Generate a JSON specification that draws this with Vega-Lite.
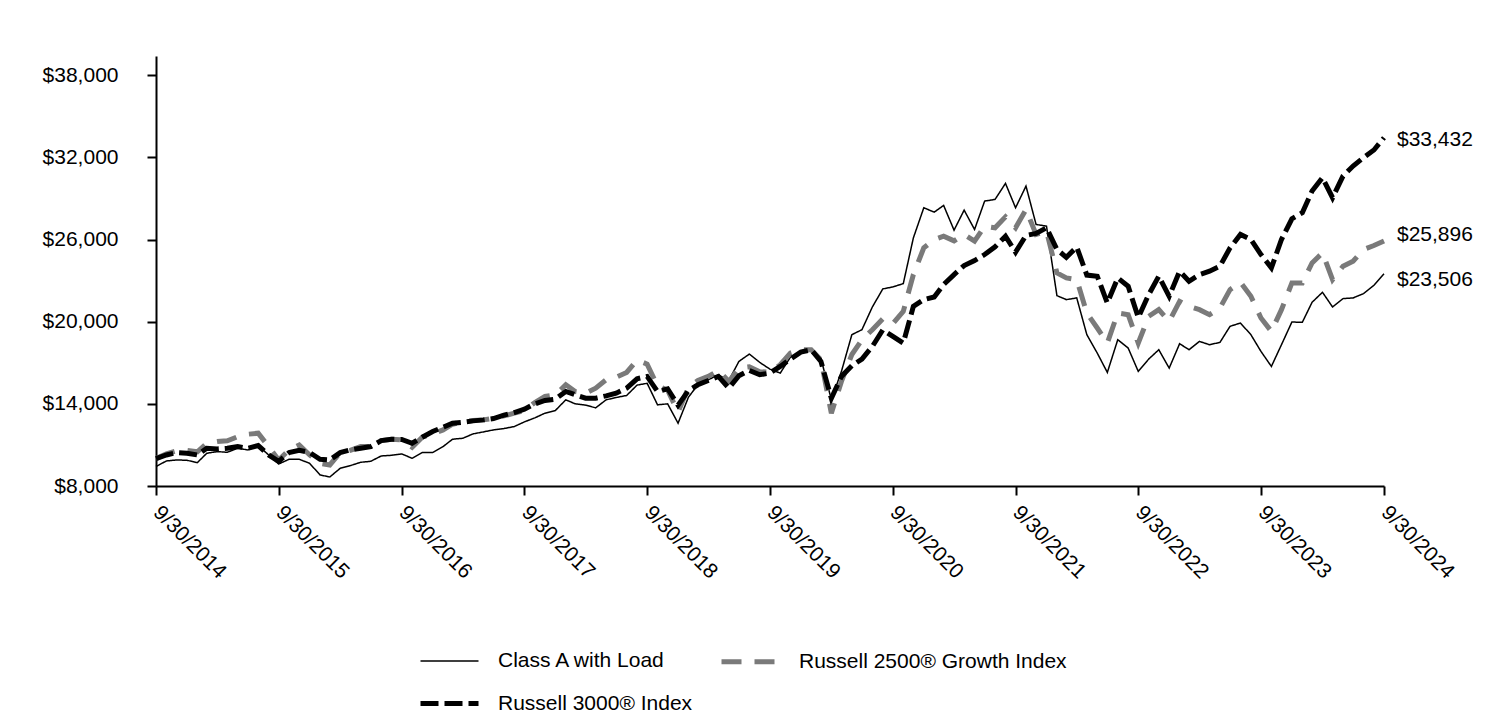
{
  "$schema": "https://vega.github.io/schema/vega-lite/v6.json",
  "width": 1228,
  "height": 430,
  "autosize": {"type": "none"},
  "padding": {"left": 156, "top": 56, "right": 128, "bottom": 232},
  "background": "white",
  "config": {
    "font": "Liberation Sans",
    "view": {"stroke": null},
    "axis": {"grid": false, "domainColor": "#000000", "domainWidth": 2, "tickColor": "#000000", "tickWidth": 2, "tickSize": 9, "labelColor": "#000000", "labelFontSize": 21, "labelFont": "Liberation Sans", "title": null}
  },
  "data": {
    "format": {"parse": {"d": "date:'%Y-%m-%d'"}},
    "values": [
      {"d":"2014-09-30","A":9425,"G":10000,"R":10000},
      {"d":"2014-10-31","A":9829,"G":10350,"R":10268},
      {"d":"2014-11-30","A":9902,"G":10561,"R":10439},
      {"d":"2014-12-31","A":9878,"G":10600,"R":10390},
      {"d":"2015-01-31","A":9707,"G":10500,"R":10268},
      {"d":"2015-02-28","A":10390,"G":11122,"R":10756},
      {"d":"2015-03-31","A":10512,"G":11244,"R":10707},
      {"d":"2015-04-30","A":10463,"G":11300,"R":10756},
      {"d":"2015-05-31","A":10756,"G":11600,"R":10878},
      {"d":"2015-06-30","A":10634,"G":11780,"R":10756},
      {"d":"2015-07-31","A":10951,"G":11854,"R":10951},
      {"d":"2015-08-31","A":10268,"G":10878,"R":10268},
      {"d":"2015-09-30","A":9610,"G":9900,"R":9800},
      {"d":"2015-10-31","A":9951,"G":10634,"R":10450},
      {"d":"2015-11-30","A":9951,"G":11000,"R":10600},
      {"d":"2015-12-31","A":9659,"G":10268,"R":10450},
      {"d":"2016-01-31","A":8805,"G":9659,"R":9951},
      {"d":"2016-02-29","A":8659,"G":9536,"R":9902},
      {"d":"2016-03-31","A":9293,"G":10439,"R":10439},
      {"d":"2016-04-30","A":9488,"G":10600,"R":10634},
      {"d":"2016-05-31","A":9732,"G":10878,"R":10756},
      {"d":"2016-06-30","A":9805,"G":10878,"R":10878},
      {"d":"2016-07-31","A":10195,"G":11317,"R":11317},
      {"d":"2016-08-31","A":10244,"G":11415,"R":11415},
      {"d":"2016-09-30","A":10341,"G":11366,"R":11400},
      {"d":"2016-10-31","A":10024,"G":10830,"R":11122},
      {"d":"2016-11-30","A":10439,"G":11561,"R":11561},
      {"d":"2016-12-31","A":10439,"G":11805,"R":11976},
      {"d":"2017-01-31","A":10878,"G":12098,"R":12293},
      {"d":"2017-02-28","A":11415,"G":12512,"R":12586},
      {"d":"2017-03-31","A":11488,"G":12683,"R":12660},
      {"d":"2017-04-30","A":11805,"G":12780,"R":12756},
      {"d":"2017-05-31","A":11950,"G":12829,"R":12829},
      {"d":"2017-06-30","A":12098,"G":12951,"R":12927},
      {"d":"2017-07-31","A":12195,"G":13122,"R":13170},
      {"d":"2017-08-31","A":12342,"G":13317,"R":13366},
      {"d":"2017-09-30","A":12683,"G":13512,"R":13610},
      {"d":"2017-10-31","A":12976,"G":14098,"R":14000},
      {"d":"2017-11-30","A":13317,"G":14537,"R":14244},
      {"d":"2017-12-31","A":13512,"G":14659,"R":14342},
      {"d":"2018-01-31","A":14293,"G":15390,"R":14903},
      {"d":"2018-02-28","A":14000,"G":14903,"R":14659},
      {"d":"2018-03-31","A":13903,"G":14781,"R":14415},
      {"d":"2018-04-30","A":13708,"G":15146,"R":14415},
      {"d":"2018-05-31","A":14293,"G":15756,"R":14585},
      {"d":"2018-06-30","A":14463,"G":15951,"R":14781},
      {"d":"2018-07-31","A":14610,"G":16293,"R":15146},
      {"d":"2018-08-31","A":15366,"G":17200,"R":15830},
      {"d":"2018-09-30","A":15500,"G":16900,"R":16000},
      {"d":"2018-10-31","A":13927,"G":15300,"R":14900},
      {"d":"2018-11-30","A":14000,"G":15000,"R":15100},
      {"d":"2018-12-31","A":12586,"G":13400,"R":13900},
      {"d":"2019-01-31","A":14490,"G":15200,"R":14975},
      {"d":"2019-02-28","A":15390,"G":15700,"R":15390},
      {"d":"2019-03-31","A":15756,"G":16000,"R":15700},
      {"d":"2019-04-30","A":16122,"G":16440,"R":16000},
      {"d":"2019-05-31","A":15700,"G":15635,"R":15146},
      {"d":"2019-06-30","A":17098,"G":16610,"R":16050},
      {"d":"2019-07-31","A":17634,"G":16700,"R":16440},
      {"d":"2019-08-31","A":17025,"G":16350,"R":16122},
      {"d":"2019-09-30","A":16537,"G":16300,"R":16244},
      {"d":"2019-10-31","A":16244,"G":16854,"R":16732},
      {"d":"2019-11-30","A":17400,"G":17708,"R":17268},
      {"d":"2019-12-31","A":17708,"G":17951,"R":17780},
      {"d":"2020-01-31","A":17951,"G":17951,"R":17951},
      {"d":"2020-02-29","A":17342,"G":17220,"R":17100},
      {"d":"2020-03-31","A":14293,"G":13317,"R":14400},
      {"d":"2020-04-30","A":16366,"G":15635,"R":16000},
      {"d":"2020-05-31","A":19049,"G":17600,"R":16780},
      {"d":"2020-06-30","A":19415,"G":18683,"R":17270},
      {"d":"2020-07-31","A":21073,"G":19415,"R":18195},
      {"d":"2020-08-31","A":22390,"G":20200,"R":19400},
      {"d":"2020-09-30","A":22537,"G":19850,"R":18925},
      {"d":"2020-10-31","A":22780,"G":20756,"R":18440},
      {"d":"2020-11-30","A":26120,"G":23439,"R":21120},
      {"d":"2020-12-31","A":28317,"G":25390,"R":21610},
      {"d":"2021-01-31","A":27998,"G":26000,"R":21805},
      {"d":"2021-02-28","A":28488,"G":26243,"R":22707},
      {"d":"2021-03-31","A":26683,"G":25900,"R":23439},
      {"d":"2021-04-30","A":28145,"G":26366,"R":24097},
      {"d":"2021-05-31","A":26732,"G":25878,"R":24463},
      {"d":"2021-06-30","A":28805,"G":26976,"R":24902},
      {"d":"2021-07-31","A":28927,"G":26854,"R":25463},
      {"d":"2021-08-31","A":30097,"G":27658,"R":26243},
      {"d":"2021-09-30","A":28317,"G":26854,"R":25073},
      {"d":"2021-10-31","A":29902,"G":28195,"R":26293},
      {"d":"2021-11-30","A":27098,"G":26366,"R":26439},
      {"d":"2021-12-31","A":26976,"G":26610,"R":26854},
      {"d":"2022-01-31","A":21902,"G":23561,"R":25270},
      {"d":"2022-02-28","A":21610,"G":23195,"R":24700},
      {"d":"2022-03-31","A":21732,"G":23073,"R":25450},
      {"d":"2022-04-30","A":19049,"G":20634,"R":23400},
      {"d":"2022-05-31","A":17707,"G":19536,"R":23317},
      {"d":"2022-06-30","A":16293,"G":18440,"R":21366},
      {"d":"2022-07-31","A":18683,"G":20634,"R":23195},
      {"d":"2022-08-31","A":18073,"G":20512,"R":22585},
      {"d":"2022-09-30","A":16366,"G":18440,"R":20300},
      {"d":"2022-10-31","A":17268,"G":20390,"R":21976},
      {"d":"2022-11-30","A":17951,"G":20878,"R":23317},
      {"d":"2022-12-31","A":16610,"G":20024,"R":21854},
      {"d":"2023-01-31","A":18390,"G":21488,"R":23683},
      {"d":"2023-02-28","A":17951,"G":21122,"R":22951},
      {"d":"2023-03-31","A":18561,"G":20878,"R":23439},
      {"d":"2023-04-30","A":18317,"G":20512,"R":23683},
      {"d":"2023-05-31","A":18488,"G":21000,"R":24049},
      {"d":"2023-06-30","A":19659,"G":22341,"R":25390},
      {"d":"2023-07-31","A":19902,"G":22878,"R":26366},
      {"d":"2023-08-31","A":19049,"G":21854,"R":26000},
      {"d":"2023-09-30","A":17829,"G":20268,"R":24902},
      {"d":"2023-10-31","A":16732,"G":19293,"R":23927},
      {"d":"2023-11-30","A":18317,"G":20878,"R":26000},
      {"d":"2023-12-31","A":19976,"G":22829,"R":27512},
      {"d":"2024-01-31","A":19951,"G":22829,"R":27951},
      {"d":"2024-02-29","A":21415,"G":24293,"R":29536},
      {"d":"2024-03-31","A":22146,"G":25024,"R":30512},
      {"d":"2024-04-30","A":21073,"G":23073,"R":29049},
      {"d":"2024-05-31","A":21683,"G":24049,"R":30634},
      {"d":"2024-06-30","A":21732,"G":24415,"R":31366},
      {"d":"2024-07-31","A":22049,"G":25268,"R":31976},
      {"d":"2024-08-31","A":22658,"G":25561,"R":32537},
      {"d":"2024-09-30","A":23506,"G":25896,"R":33432}
    ]
  },
  "transform": [{"fold": ["A", "G", "R"], "as": ["s", "v"]}],
  "encoding": {
    "x": {
      "field": "d", "type": "temporal",
      "scale": {"domain": [{"year": 2014, "month": 9, "date": 30}, {"year": 2024, "month": 9, "date": 30}], "nice": false},
      "axis": {
        "values": [
          {"year": 2014, "month": 9, "date": 30}, {"year": 2015, "month": 9, "date": 30}, {"year": 2016, "month": 9, "date": 30},
          {"year": 2017, "month": 9, "date": 30}, {"year": 2018, "month": 9, "date": 30}, {"year": 2019, "month": 9, "date": 30},
          {"year": 2020, "month": 9, "date": 30}, {"year": 2021, "month": 9, "date": 30}, {"year": 2022, "month": 9, "date": 30},
          {"year": 2023, "month": 9, "date": 30}, {"year": 2024, "month": 9, "date": 30}
        ],
        "format": "%-m/%d/%Y",
        "labelAngle": 45, "labelAlign": "left", "labelBaseline": "middle",
        "labelPadding": 14, "labelOverlap": false, "labelFlush": false, "tickSize": 9
      }
    },
    "y": {
      "field": "v", "type": "quantitative",
      "scale": {"domain": [8000, 39400], "nice": false, "zero": false},
      "axis": {"values": [8000, 14000, 20000, 26000, 32000, 38000], "format": "$,.0f", "labelPadding": 29, "tickSize": 9}
    }
  },
  "layer": [
    {
      "mark": {"type": "line", "strokeCap": "butt", "strokeJoin": "miter"},
      "encoding": {
        "stroke": {
          "field": "s", "type": "nominal",
          "scale": {"domain": ["A", "G", "R"], "range": ["#000000", "#7a7a7a", "#000000"]},
          "legend": {
            "orient": "none", "legendX": 262, "legendY": 574, "columns": 2, "direction": "horizontal",
            "title": null, "symbolType": "stroke", "symbolSize": 3364, "labelFontSize": 21, "labelColor": "#000000",
            "labelOffset": 17, "columnPadding": 18, "rowPadding": -17, "labelLimit": 0, "padding": 0,
            "labelExpr": "datum.label == 'A' ? 'Class A with Load' : datum.label == 'G' ? 'Russell 2500® Growth Index' : 'Russell 3000® Index'"
          }
        },
        "strokeDash": {
          "field": "s", "type": "nominal",
          "scale": {"domain": ["A", "G", "R"], "range": [[1, 0], [20, 13], [18, 6]]}
        },
        "strokeWidth": {
          "field": "s", "type": "nominal",
          "scale": {"type": "ordinal", "domain": ["A", "G", "R"], "range": [1.5, 5, 5]}
        }
      }
    },
    {
      "transform": [{"filter": "datum.s == 'R' && year(datum.d) == 2024 && month(datum.d) == 8 && date(datum.d) == 30"}],
      "mark": {"type": "text", "align": "left", "baseline": "middle", "dx": 13, "dy": 2, "fontSize": 21, "color": "#000000"},
      "encoding": {"text": {"field": "v", "type": "quantitative", "format": "$,.0f"}}
    },
    {
      "transform": [{"filter": "datum.s == 'G' && year(datum.d) == 2024 && month(datum.d) == 8 && date(datum.d) == 30"}],
      "mark": {"type": "text", "align": "left", "baseline": "middle", "dx": 13, "dy": -6, "fontSize": 21, "color": "#000000"},
      "encoding": {"text": {"field": "v", "type": "quantitative", "format": "$,.0f"}}
    },
    {
      "transform": [{"filter": "datum.s == 'A' && year(datum.d) == 2024 && month(datum.d) == 8 && date(datum.d) == 30"}],
      "mark": {"type": "text", "align": "left", "baseline": "middle", "dx": 13, "dy": 6, "fontSize": 21, "color": "#000000"},
      "encoding": {"text": {"field": "v", "type": "quantitative", "format": "$,.0f"}}
    }
  ]
}
